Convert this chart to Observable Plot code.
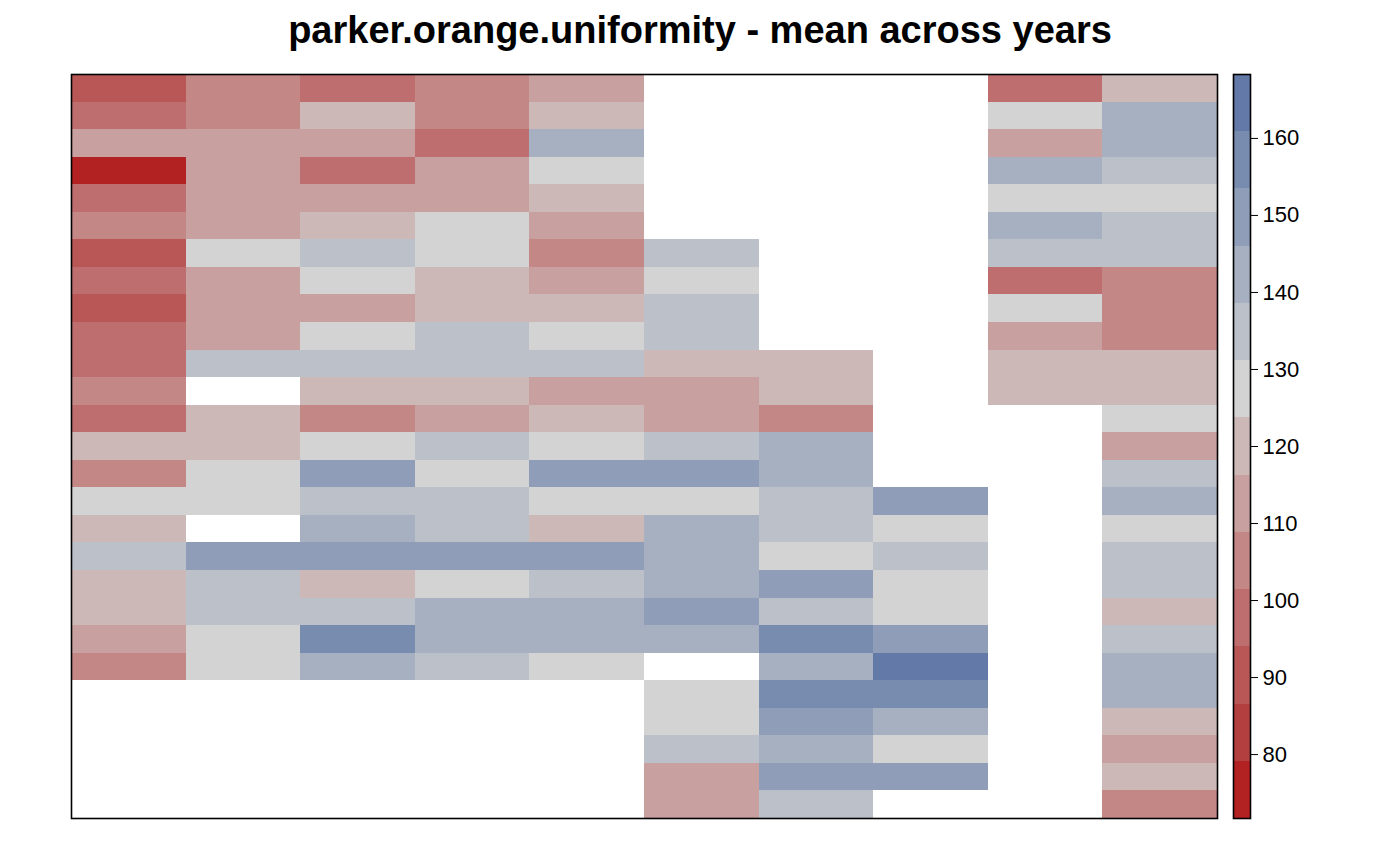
<!DOCTYPE html>
<html><head><meta charset="utf-8">
<script src="https://cdn.jsdelivr.net/npm/d3@7"></script>
<script src="https://cdn.jsdelivr.net/npm/@observablehq/plot@0.6"></script>
<style>
body{margin:0;background:#fff;}
#wrap{position:relative;width:1400px;height:866px;overflow:hidden;}
#title{position:absolute;left:0;top:11px;width:1400px;text-align:center;font:bold 38px "Liberation Sans",Arial,sans-serif;line-height:1;color:#000;}
#main{position:absolute;left:0;top:0;}
#legend{position:absolute;left:1220px;top:0;}
</style></head><body>
<div id="wrap"><div id="title">parker.orange.uniformity - mean across years</div><div id="main"></div><div id="legend"></div></div>
<script>
// column (sample) identifiers and row identifiers
const columns = ["1","2","3","4","5","6","7","8","9","10"];
const rowIds = d3.range(1, 28);

// mean values per column, top row first (null = no data)
const col1 = [89.6, 97.3, 112.1, 71.7, 98.8, 104.2, 88.9, 96.5, 90.8, 97.9, 99.2, 106.1, 98.4, 119.3, 104.8, 127.6, 121.2, 134.1, 118.7, 120.5, 111.4, 105.6, null, null, null, null, null];
const col2 = [105.3, 106.2, 112.4, 113.8, 111.9, 110.7, 126.1, 113.2, 112.6, 114.1, 134.2, null, 119.4, 121.3, 128.2, 126.7, null, 149.6, 136.1, 133.8, 127.9, 128.8, null, null, null, null, null];
const col3 = [97.1, 120.8, 111.5, 98.2, 113.1, 121.9, 135.5, 127.2, 112.3, 126.4, 134.6, 119.8, 104.6, 127.8, 149.2, 135.1, 142.6, 150.4, 118.9, 136.2, 156.8, 141.5, null, null, null, null, null];
const col4 = [104.1, 105.7, 97.6, 114.2, 112.8, 128.4, 126.3, 120.1, 121.7, 134.9, 133.5, 119.2, 112.9, 135.8, 127.1, 134.4, 136.6, 151.1, 125.9, 143.1, 142.2, 135.3, null, null, null, null, null];
const col5 = [111.6, 121.4, 141.8, 128.6, 119.9, 112.2, 106.3, 113.5, 120.6, 127.3, 135.2, 113.9, 118.6, 126.2, 149.8, 128.1, 121.1, 150.6, 133.9, 142.9, 141.4, 127.7, null, null, null, null, null];
const col6 = [null, null, null, null, null, null, 134.3, 127.9, 135.6, 134.8, 120.4, 113.6, 112.7, 135.1, 148.9, 126.9, 142.1, 143.4, 141.7, 150.2, 142.8, null, 127.5, 128.3, 134.7, 112.1, 113.3];
const col7 = [null, null, null, null, null, null, null, null, null, null, 121.6, 119.7, 105.9, 142.4, 141.1, 135.9, 134.0, 126.8, 149.1, 135.4, 157.6, 142.7, 156.2, 150.9, 143.6, 149.5, 134.6];
const col8 = [null, null, null, null, null, null, null, null, null, null, null, null, null, null, null, 150.7, 127.4, 135.7, 128.5, 127.0, 149.4, 168.3, 157.9, 141.9, 126.5, 150.1, null];
const col9 = [97.5, 127.8, 112.7, 142.5, 128.0, 141.6, 134.5, 96.9, 126.6, 113.4, 120.2, 121.5, null, null, null, null, null, null, null, null, null, null, null, null, null, null, null];
const col10 = [119.6, 142.0, 143.0, 135.0, 127.6, 134.2, 136.0, 105.4, 104.7, 106.0, 120.7, 119.1, 128.9, 112.5, 134.8, 141.3, 127.1, 135.9, 133.7, 121.0, 134.1, 142.4, 141.8, 120.3, 113.0, 119.5, 104.9];

// legend tick labels
const legendTicks = [80, 90, 100, 110, 120, 130, 140, 150, 160];

// 13-colour diverging palette (red - grey - blue)
const palette = ["#B22222","#B3403F","#B95757","#BE6E6E","#C38786","#C8A0A0","#CDB8B8","#D3D3D3","#BCC0C8","#A6B0C0","#8F9DB8","#788CB0","#6379A8"];

const series = [col1, col2, col3, col4, col5, col6, col7, col8, col9, col10];
const cells = [];
series.forEach((vals, ci) => vals.forEach((v, ri) => {
  if (v != null) cells.push({col: columns[ci], row: rowIds[ri], value: v});
}));

const [lo, hi] = d3.extent(cells, d => d.value);
const nb = palette.length;
const breaks = d3.range(nb + 1).map(i => lo + (hi - lo) * i / nb);
const thresholds = breaks.slice(1, nb);
const colorOpts = {type: "threshold", domain: thresholds, range: palette};
const bins = d3.range(nb).map(i => ({lo: breaks[i], hi: breaks[i + 1], mid: (breaks[i] + breaks[i + 1]) / 2}));

const font = {fontFamily: "'Liberation Sans', Arial, sans-serif", fontSize: "22px", background: "transparent", overflow: "visible", color: "#000"};

const main = Plot.plot({
  width: 1230, height: 866,
  marginLeft: 71, marginRight: 13, marginTop: 74, marginBottom: 48,
  x: {type: "band", domain: columns, padding: 0, round: false, axis: null},
  y: {type: "band", domain: rowIds, padding: 0, round: false, axis: null},
  color: colorOpts,
  style: font,
  marks: [
    Plot.cell(cells, {x: "col", y: "row", fill: "value", inset: 0, shapeRendering: "crispEdges"}),
    Plot.frame({stroke: "black", strokeWidth: 1.6})
  ]
});
document.getElementById("main").appendChild(main);

const legend = Plot.plot({
  width: 180, height: 866,
  marginLeft: 13, marginRight: 150, marginTop: 74, marginBottom: 48,
  x: {domain: [0, 1], axis: null},
  y: {domain: [lo, hi], axis: null},
  color: colorOpts,
  style: font,
  marks: [
    Plot.rect(bins, {x1: () => 0, x2: () => 1, y1: "lo", y2: "hi", fill: "mid", inset: 0, shapeRendering: "crispEdges"}),
    Plot.frame({stroke: "black", strokeWidth: 1.6}),
    Plot.axisY(legendTicks, {anchor: "right", tickSize: 7, tickPadding: 5, fontSize: 22, tickFormat: d => String(d)})
  ]
});
document.getElementById("legend").appendChild(legend);
</script>
</body></html>
